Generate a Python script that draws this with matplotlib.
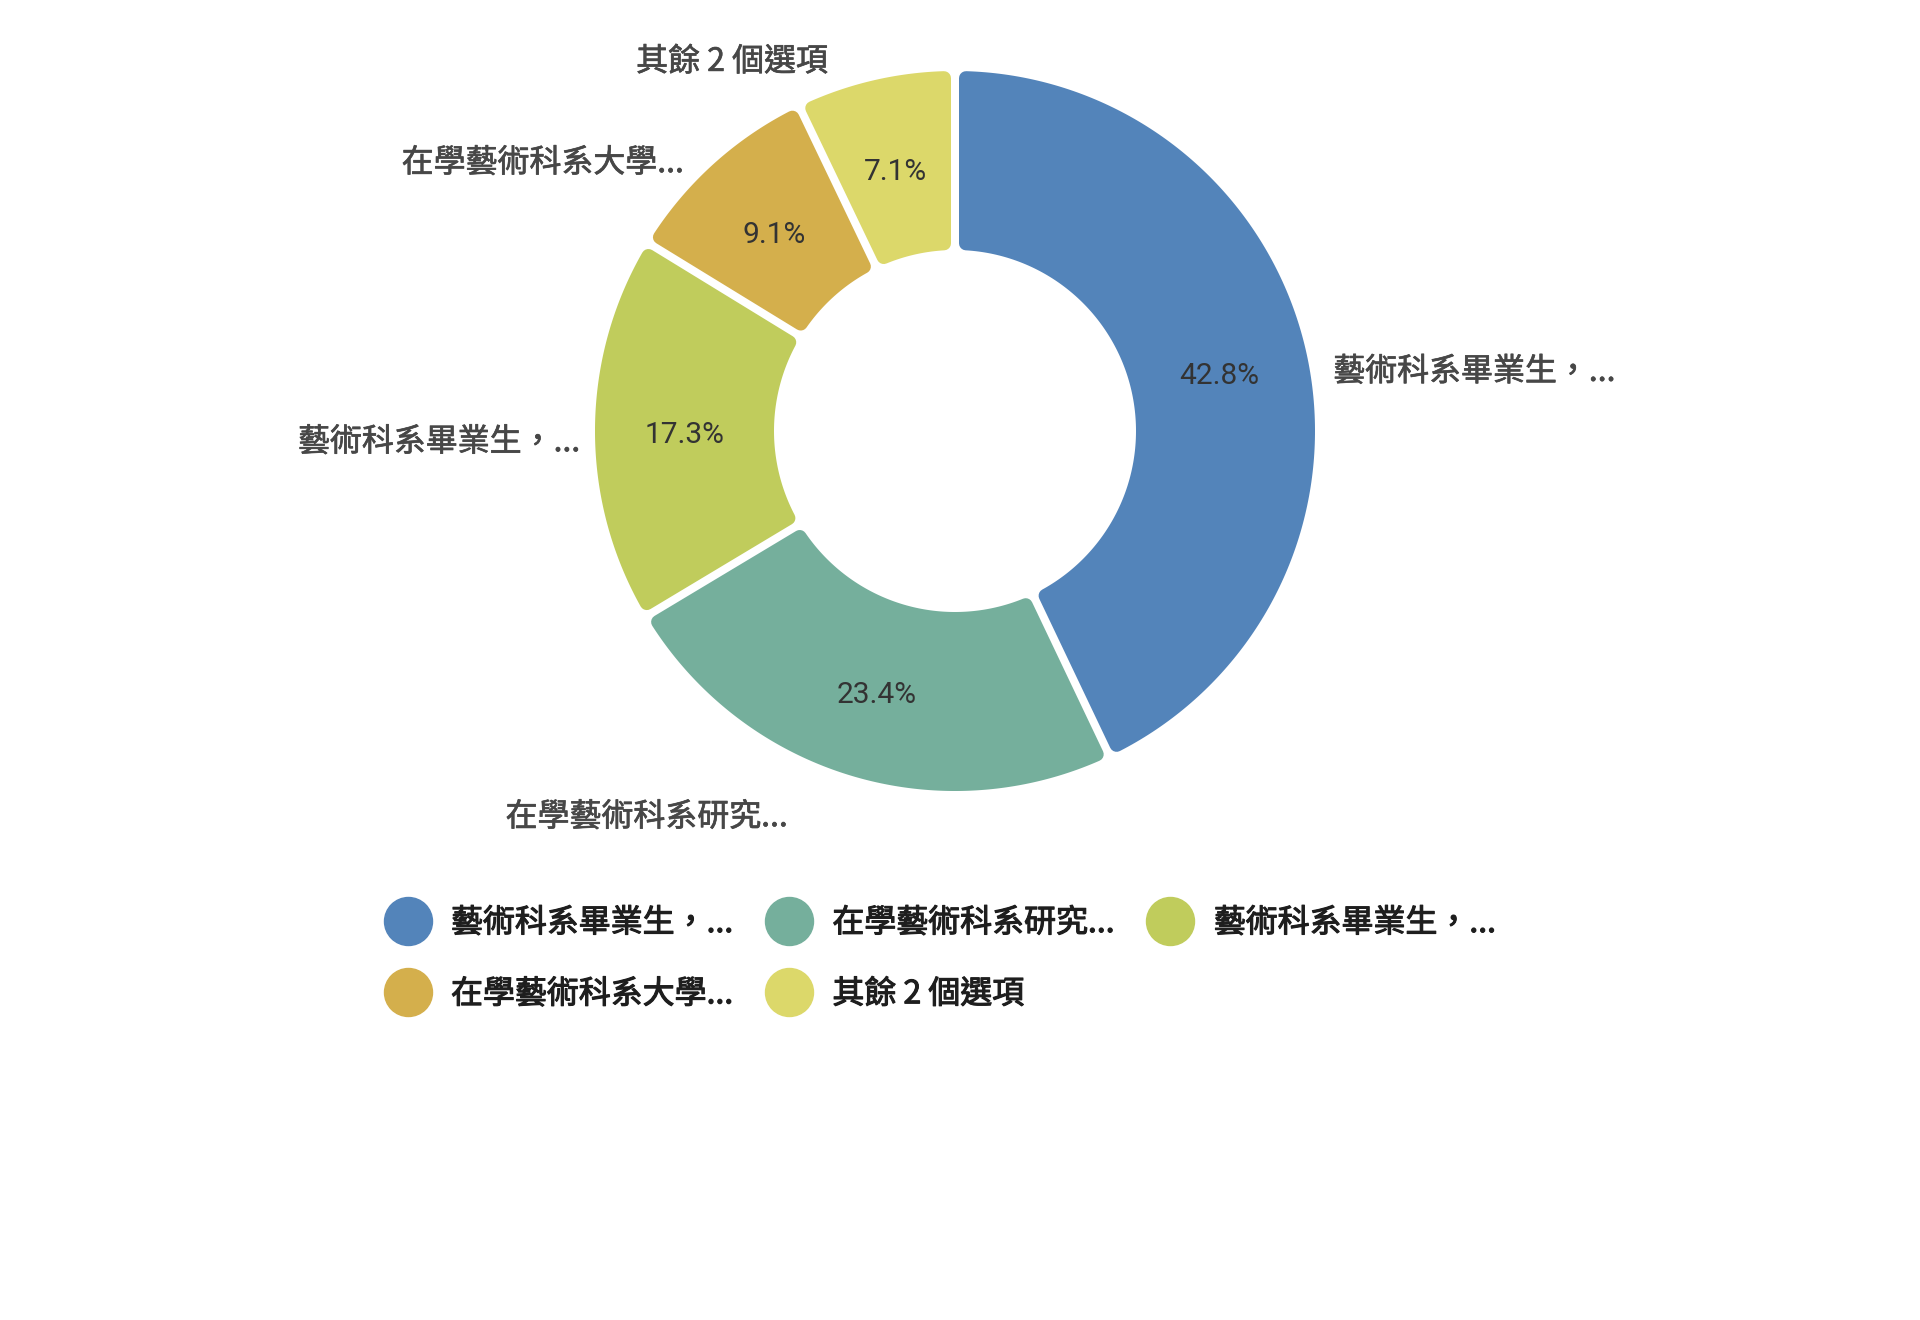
import numpy as np
import matplotlib.pyplot as plt
import matplotlib.patheffects as pe
from matplotlib.patches import Polygon
from matplotlib.lines import Line2D

plt.rcParams['font.family'] = ['Noto Sans CJK TC', 'DejaVu Sans']

categories = ["藝術科系畢業生，...", "在學藝術科系研究...", "藝術科系畢業生，...",
              "在學藝術科系大學...", "其餘 2 個選項"]
shares = [42.8, 23.4, 17.3, 9.1, 7.1]
pct_labels = ["42.8%", "23.4%", "17.3%", "9.1%", "7.1%"]
colors = ["#5384ba", "#75af9c", "#c0cc5c", "#d4af4c", "#dcd86a"]

W, H = 1920, 1320
fig = plt.figure(figsize=(W / 100, H / 100), dpi=100)
ax = fig.add_axes([0, 0, 1, 1])

# donut geometry in pixels (y counted from the bottom)
cx, cy = 955, H - 431
R, r_in = 360, 181

wedges, _ = ax.pie(shares, colors=colors, startangle=90, counterclock=False,
                   center=(cx, cy), radius=R, wedgeprops=dict(width=R - r_in))
ax.set_xlim(0, W)
ax.set_ylim(0, H)
ax.set_aspect('equal')
ax.axis('off')

gap, rnd = 4, 7  # half gap between slices, corner radius (px)
px2pt = 72 / 100

# small shifts of the outside labels, like the chart tool lays them out (px)
label_nudge = [(-8, -28), (-52, -7), (22, -13), (-5, -26), (-39, -17)]


def rounded_sector(w, color):
    t1, t2 = np.deg2rad(w.theta1), np.deg2rad(w.theta2)
    ro = w.r - rnd
    ri = w.r - w.width + rnd
    off = gap + rnd
    ao = np.arcsin(off / ro)
    ai = np.arcsin(off / ri)
    outer = np.linspace(t1 + ao, t2 - ao, 200)
    inner = np.linspace(t2 - ai, t1 + ai, 200)
    xs = np.r_[ro * np.cos(outer), ri * np.cos(inner)] + w.center[0]
    ys = np.r_[ro * np.sin(outer), ri * np.sin(inner)] + w.center[1]
    return Polygon(np.c_[xs, ys], closed=True, facecolor=color, edgecolor=color,
                   linewidth=2 * rnd * px2pt, joinstyle='round')


for w, c, name, pct, (nx, ny) in zip(wedges, colors, categories, pct_labels, label_nudge):
    w.set_visible(False)
    ax.add_patch(rounded_sector(w, c))
    mid = np.deg2rad((w.theta1 + w.theta2) / 2)
    rp = (R + r_in) / 2
    ax.text(cx + rp * np.cos(mid), cy + rp * np.sin(mid) - 5, pct,
            ha='center', va='center', fontsize=21.5, color='#333333',
            family=['Roboto', 'DejaVu Sans'])
    rl = R * 1.1
    ax.text(cx + rl * np.cos(mid) + nx, cy + rl * np.sin(mid) + ny, name,
            ha='left' if np.cos(mid) > 0 else 'right', va='center',
            fontsize=23, color='#474747',
            path_effects=[pe.withStroke(linewidth=0.5, foreground='#474747')])

# legend, filled row by row
order = [0, 3, 1, 4, 2]
handles = [Line2D([], [], marker='o', ls='', ms=48 * px2pt,
                  mfc=colors[i], mec=colors[i]) for i in order]
leg = fig.legend(handles, [categories[i] for i in order], ncol=3, loc='upper left',
                 bbox_to_anchor=(382 / W, 1 - 907 / H), frameon=False,
                 borderaxespad=0, borderpad=0, handlelength=1.6, handletextpad=0.56,
                 columnspacing=0.92, labelspacing=1.23,
                 prop=dict(size=23), labelcolor='#1e1e1e')
for t in leg.get_texts():
    t.set_path_effects([pe.withStroke(linewidth=0.8, foreground='#1e1e1e')])

fig.savefig('out.png', dpi=100, facecolor='white')
